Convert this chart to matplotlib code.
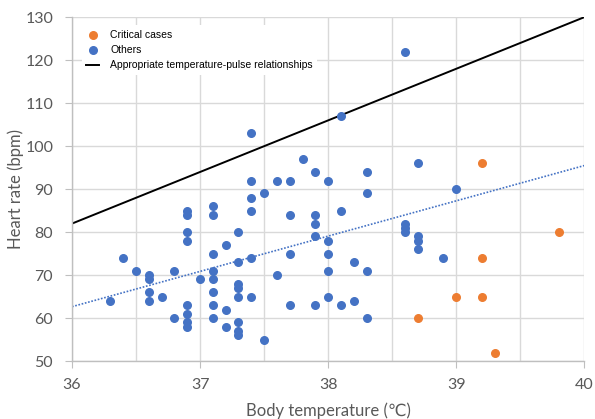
import numpy as np
import matplotlib.pyplot as plt

# body temperature / heart rate readings
others_temp = [36.3, 36.4, 36.5, 36.6, 36.6, 36.6, 36.6, 36.7, 36.8, 36.8,
               36.9, 36.9, 36.9, 36.9, 36.9, 36.9, 36.9, 36.9, 37.0,
               37.1, 37.1, 37.1, 37.1, 37.1, 37.1, 37.1, 37.1,
               37.2, 37.2, 37.2,
               37.3, 37.3, 37.3, 37.3, 37.3, 37.3, 37.3, 37.3,
               37.4, 37.4, 37.4, 37.4, 37.4, 37.4, 37.5, 37.5, 37.6, 37.6,
               37.7, 37.7, 37.7, 37.7, 37.8,
               37.9, 37.9, 37.9, 37.9, 37.9,
               38.0, 38.0, 38.0, 38.0, 38.0, 38.1, 38.1, 38.1, 38.2, 38.2,
               38.3, 38.3, 38.3, 38.3, 38.6, 38.6, 38.6, 38.6,
               38.7, 38.7, 38.7, 38.7, 38.9, 39.0]
others_hr = [64, 74, 71, 70, 69, 66, 64, 65, 71, 60,
             85, 84, 80, 78, 63, 61, 59, 58, 69,
             86, 84, 75, 71, 69, 66, 63, 60,
             77, 62, 58,
             80, 73, 68, 67, 65, 59, 57, 56,
             103, 92, 88, 85, 74, 65, 89, 55, 92, 70,
             92, 84, 75, 63, 97,
             94, 84, 82, 79, 63,
             92, 78, 75, 71, 65, 107, 85, 63, 73, 64,
             94, 89, 71, 60, 122, 82, 81, 80,
             96, 79, 78, 76, 74, 90]

critical_temp = [38.7, 39.0, 39.2, 39.2, 39.2, 39.3, 39.8]
critical_hr = [60, 65, 96, 74, 65, 52, 80]

# reference relationship line (two end points)
ref_temp = [36, 40]
ref_hr = [82, 130]

blue = '#4472C4'
orange = '#ED7D31'
grey = '#595959'
fam = ['Lato', 'DejaVu Sans']

fig = plt.figure(figsize=(5.95, 4.19), dpi=100)
ax = fig.add_axes([0.121, 0.138, 0.861, 0.821])

ax.scatter(critical_temp, critical_hr, s=30, color=orange, zorder=3, label='Critical cases')
ax.scatter(others_temp, others_hr, s=30, color=blue, zorder=3, label='Others')
ax.plot(ref_temp, ref_hr, color='black', lw=1.4, label='Appropriate temperature-pulse relationships')

# linear trend of the "others" group
k, b = np.polyfit(others_temp, others_hr, 1)
tx = np.array([36, 40])
ax.plot(tx, k * tx + b, color=blue, lw=1.2, ls=(0, (1, 1)), zorder=2)

ax.set_xlim(36, 40)
ax.set_ylim(50, 130)
ax.set_xticks([36, 37, 38, 39, 40])
ax.set_xticks(np.arange(36, 40.01, 0.5), minor=True)
ax.set_yticks(range(50, 131, 10))
ax.grid(True, which='both', color='#D9D9D9', lw=1)
ax.set_axisbelow(True)
ax.tick_params(which='minor', length=0)
ax.tick_params(which='major', colors='#BFBFBF', labelcolor=grey, labelsize=11.5, length=5)
ax.tick_params(axis='x', pad=7)
ax.tick_params(axis='y', pad=8.5)
for lab in ax.get_xticklabels() + ax.get_yticklabels():
    lab.set_family(fam)
for s in ['top', 'right']:
    ax.spines[s].set_visible(False)
for s in ['left', 'bottom']:
    ax.spines[s].set_color('#BFBFBF')
    ax.spines[s].set_linewidth(1)

ax.set_xlabel('Body temperature (\u2103)', color=grey, fontsize=12, family=fam, labelpad=7.5)
ax.set_ylabel('Heart rate (bpm)', color=grey, fontsize=12, family=fam, labelpad=1)

leg = ax.legend(loc='upper left', bbox_to_anchor=(0.014, 0.985), frameon=True,
                facecolor='white', edgecolor='none', framealpha=1, fancybox=False,
                handlelength=1.2, handletextpad=1.1, borderaxespad=0.3,
                labelspacing=0.52, prop={'family': 'Liberation Sans', 'size': 7.5})

fig.savefig('out.png', dpi=100)
